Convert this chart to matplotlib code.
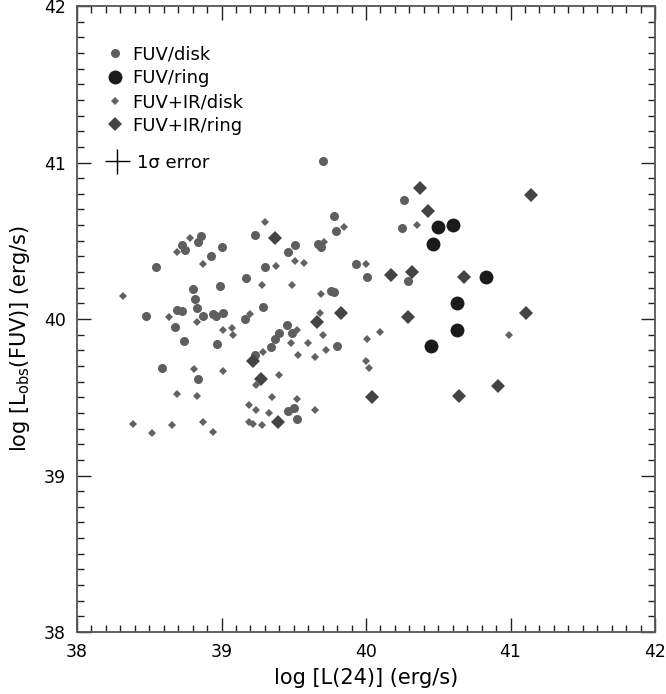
import matplotlib.pyplot as plt
from matplotlib.lines import Line2D
from matplotlib.ticker import MultipleLocator

# FUV/disk (medium grey circles)
disk_circ_x = [38.86, 38.84, 38.73, 38.75, 39.00, 38.93, 38.55, 38.80, 38.99, 38.82,
               38.48, 38.68, 38.69, 38.73, 38.83, 38.87, 38.94, 38.96, 39.01, 39.17,
               39.23, 39.30, 39.46, 39.51, 39.29, 39.16, 39.45, 39.67, 39.69, 39.78,
               39.79, 39.76, 39.78, 39.93, 40.01, 39.70, 40.26, 40.25, 40.29, 39.80,
               38.74, 38.97, 38.59, 38.84, 39.40, 39.37, 39.49, 39.34, 39.23, 39.46,
               39.50, 39.52]
disk_circ_y = [40.53, 40.49, 40.47, 40.44, 40.46, 40.40, 40.33, 40.19, 40.21, 40.13,
               40.02, 39.95, 40.06, 40.05, 40.07, 40.02, 40.03, 40.02, 40.04, 40.26,
               40.54, 40.33, 40.43, 40.47, 40.08, 40.00, 39.96, 40.48, 40.46, 40.66,
               40.56, 40.18, 40.17, 40.35, 40.27, 41.01, 40.76, 40.58, 40.24, 39.83,
               39.86, 39.84, 39.69, 39.62, 39.91, 39.87, 39.91, 39.82, 39.77, 39.41,
               39.43, 39.36]

# FUV/ring (large black circles)
ring_circ_x = [40.50, 40.60, 40.46, 40.83, 40.63, 40.63, 40.45]
ring_circ_y = [40.59, 40.60, 40.48, 40.27, 40.10, 39.93, 39.83]

# FUV+IR/disk (small grey diamonds)
disk_diam_x = [38.78, 38.69, 38.87, 38.32, 38.64, 38.83, 39.30, 39.28, 39.38, 39.51,
               39.57, 39.49, 39.20, 39.71, 39.85, 39.69, 39.68, 40.00, 40.35, 40.01,
               40.10, 40.99, 40.00, 40.02, 39.01, 39.07, 39.08, 38.81, 39.01, 38.69,
               38.83, 38.39, 38.52, 38.66, 38.87, 38.94, 39.52, 39.48, 39.60, 39.70,
               39.29, 39.53, 39.65, 39.72, 39.24, 39.40, 39.35, 39.52, 39.19, 39.24,
               39.33, 39.65, 39.19, 39.22, 39.28]
disk_diam_y = [40.52, 40.43, 40.35, 40.15, 40.01, 39.98, 40.62, 40.22, 40.34, 40.37,
               40.36, 40.22, 40.03, 40.49, 40.59, 40.16, 40.04, 40.35, 40.60, 39.87,
               39.92, 39.90, 39.73, 39.69, 39.93, 39.94, 39.90, 39.68, 39.67, 39.52,
               39.51, 39.33, 39.27, 39.32, 39.34, 39.28, 39.93, 39.85, 39.85, 39.90,
               39.79, 39.77, 39.76, 39.80, 39.58, 39.64, 39.50, 39.49, 39.45, 39.42,
               39.40, 39.42, 39.34, 39.33, 39.32]

# FUV+IR/ring (large dark diamonds)
ring_diam_x = [40.37, 40.43, 41.14, 40.17, 40.32, 40.68, 39.83, 40.29, 41.11, 40.04,
               40.64, 40.91, 39.37, 39.66, 39.22, 39.27, 39.39]
ring_diam_y = [40.84, 40.69, 40.79, 40.28, 40.30, 40.27, 40.04, 40.01, 40.04, 39.50,
               39.51, 39.57, 40.52, 39.98, 39.73, 39.62, 39.34]

labels = ["FUV/disk", "FUV/ring", "FUV+IR/disk", "FUV+IR/ring"]

plt.rcParams['font.family'] = ['DejaVu Sans']
plt.rcParams['font.size'] = 12.5

fig = plt.figure(figsize=(6.66, 6.94), dpi=100)
ax = fig.add_axes([0.1156, 0.0893, 0.868, 0.902])

c_disk = '#5e5e5e'
c_ring_d = '#444444'
c_ring_c = '#1b1b1b'

h1, = ax.plot(disk_circ_x, disk_circ_y, 'o', ms=6.5, color=c_disk, mew=0, label=labels[0])
h3, = ax.plot(disk_diam_x, disk_diam_y, 'D', ms=4.2, color='#626262', mew=0, label=labels[2])
h4, = ax.plot(ring_diam_x, ring_diam_y, 'D', ms=6.8, color=c_ring_d, mew=0, label=labels[3])
h2, = ax.plot(ring_circ_x, ring_circ_y, 'o', ms=10, color=c_ring_c, mew=0, label=labels[1])

ax.set_xlim(38, 42)
ax.set_ylim(38, 42)
ax.xaxis.set_major_locator(MultipleLocator(1))
ax.yaxis.set_major_locator(MultipleLocator(1))
ax.xaxis.set_minor_locator(MultipleLocator(0.1))
ax.yaxis.set_minor_locator(MultipleLocator(0.1))
ax.tick_params(which='both', direction='in', top=True, right=True, color='#222222')
ax.tick_params(which='major', length=10, width=1, pad=8)
ax.tick_params(which='minor', length=5, width=1)
for s in ax.spines.values():
    s.set_color('#555555')
    s.set_linewidth(1.3)

ax.set_xlabel("log [L(24)] (erg/s)", fontsize=15, labelpad=5)
ax.set_ylabel(r"log [L$_{\rm obs}$(FUV)] (erg/s)", fontsize=15)
ax.yaxis.set_label_coords(-0.078, 0.468)

leg1 = ax.legend(handles=[h1, h2, h3, h4], loc='upper left', frameon=False,
                 bbox_to_anchor=(0.047, 0.937), borderaxespad=0, borderpad=0,
                 handlelength=1.2, handletextpad=0.34, labelspacing=0.32,
                 fontsize=13)
ax.add_artist(leg1)
err = Line2D([], [], marker='+', ms=18, mew=1, color='black', lw=0)
ax.legend(handles=[err], labels=["1σ error"], loc='upper left', frameon=False,
          bbox_to_anchor=(0.050, 0.764), borderaxespad=0, borderpad=0,
          handlelength=1.2, handletextpad=0.53, fontsize=13)

fig.savefig("out.png", dpi=100)
